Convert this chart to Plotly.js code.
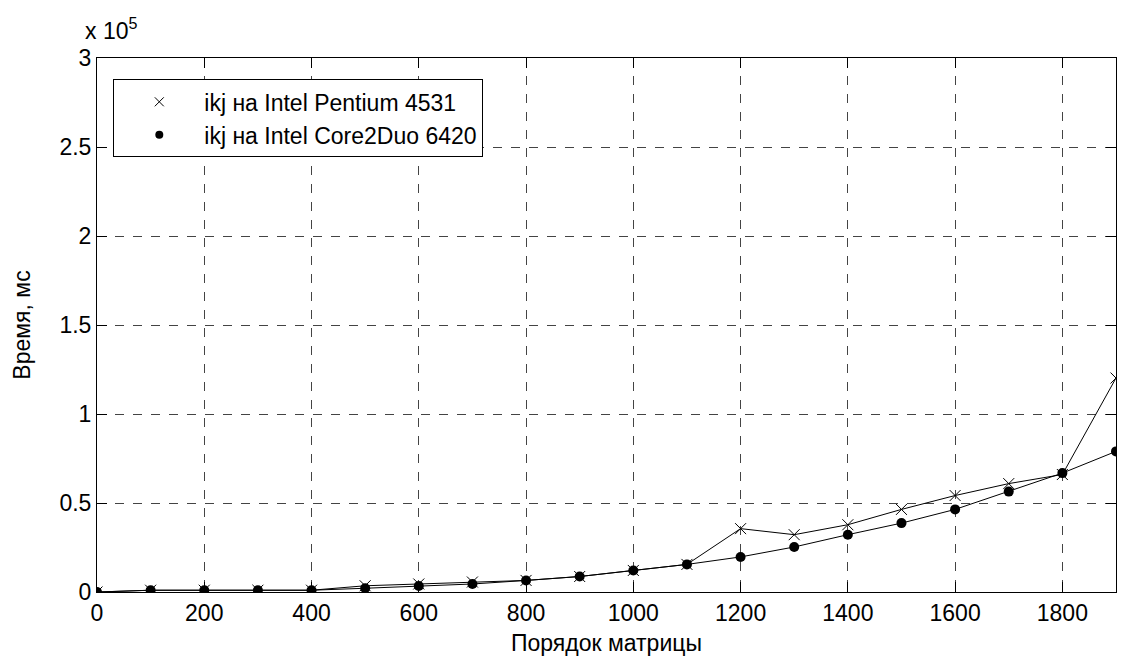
<!DOCTYPE html>
<html>
<head>
<meta charset="utf-8">
<script src="https://cdn.plot.ly/plotly-3.0.1.min.js"></script>
<style>html,body{margin:0;padding:0;background:#fff;}#chart{width:1122px;height:660px;}</style>
</head>
<body>
<div id="chart"></div>
<script>
const sizes = [0,100,200,300,400,500,600,700,800,900,1000,1100,1200,1300,1400,1500,1600,1700,1800,1900];
const pentium = [0,1000,1000,1000,1000,3500,4500,5600,6500,8700,12100,15500,35600,32200,37800,46400,54200,60900,66000,120200];
const core2duo = [0,1000,1000,1000,1000,2100,3400,4500,6500,8700,12100,15500,19700,25300,32200,38700,46400,56400,66800,79000];
const nameP = 'ikj на Intel Pentium 4531';
const nameC = 'ikj на Intel Core2Duo 6420';
const xTicks = [0,200,400,600,800,1000,1200,1400,1600,1800];
const yTicks = [0,50000,100000,150000,200000,250000,300000];
const yTickText = ['0','0.5','1','1.5','2','2.5','3'];

const font = {family: 'Liberation Sans, Arial, sans-serif', size: 23, color: '#000'};

const traces = [
  {x: sizes, y: pentium, mode: 'lines+markers', showlegend: false,
   line: {color: '#000', width: 1},
   marker: {symbol: 'x-thin', size: 11, line: {color: '#000', width: 1}}},
  {x: sizes, y: core2duo, mode: 'lines+markers', showlegend: false,
   line: {color: '#000', width: 1},
   marker: {symbol: 'circle', size: 10, color: '#000'}},
  {x: [null], y: [null], mode: 'markers', name: nameP,
   marker: {symbol: 'x-thin', size: 9, line: {color: '#000', width: 1}}},
  {x: [null], y: [null], mode: 'markers', name: nameC,
   marker: {symbol: 'circle', size: 8, color: '#000'}}
];

const axisCommon = {
  showline: true, linecolor: '#000', linewidth: 1, mirror: 'ticks',
  ticks: 'inside', ticklen: 10, tickcolor: '#000', tickwidth: 1,
  showgrid: true, gridcolor: '#444', griddash: 'dash', gridwidth: 1,
  zeroline: false, tickfont: font
};

const layout = {
  width: 1122, height: 660,
  paper_bgcolor: '#fff', plot_bgcolor: '#fff',
  margin: {l: 97, r: 6, t: 58, b: 68},
  font: font,
  xaxis: Object.assign({}, axisCommon, {
    range: [0, 1900], tickvals: xTicks, automargin: false,
    title: {text: 'Порядок матрицы', font: font, standoff: 10}
  }),
  yaxis: Object.assign({}, axisCommon, {
    range: [0, 300000], tickvals: yTicks, ticktext: yTickText, automargin: false,
    title: {text: 'Время, мс', font: font, standoff: 22}
  }),
  legend: {
    x: 0.016, y: 0.96, xanchor: 'left', yanchor: 'top',
    bgcolor: '#fff', bordercolor: '#000', borderwidth: 1,
    font: font, itemwidth: 80, tracegroupgap: 0
  },
  annotations: [{
    xref: 'paper', yref: 'paper', x: 0, y: 1, xanchor: 'left', yanchor: 'bottom',
    text: 'x 10<sup>5</sup>', showarrow: false, font: font, xshift: -14, yshift: 12
  }]
};

Plotly.newPlot('chart', traces, layout, {staticPlot: true});
</script>
</body>
</html>
